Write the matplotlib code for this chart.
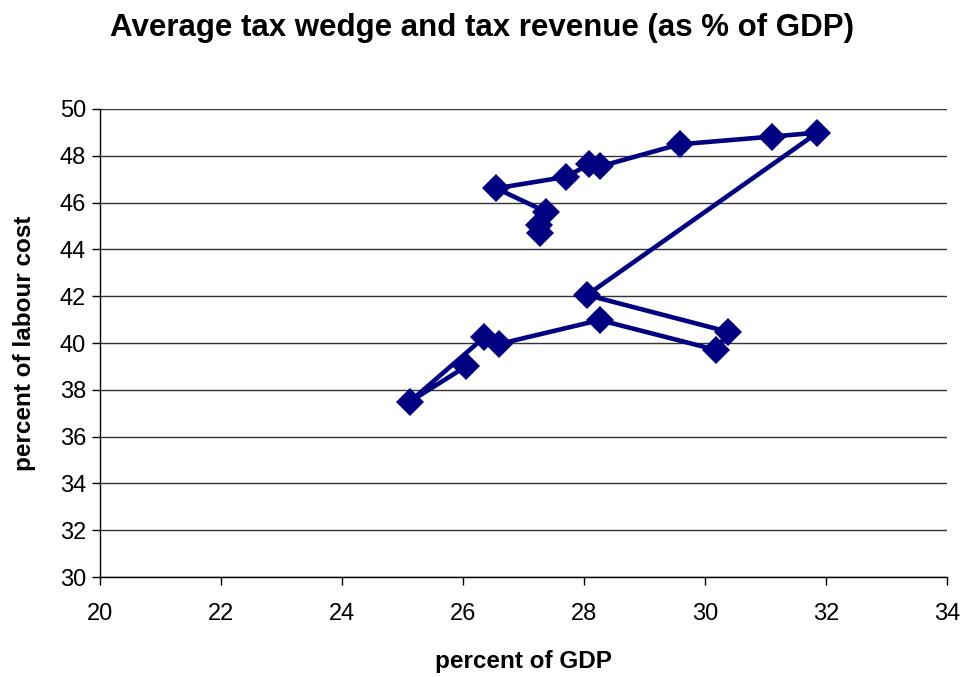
import matplotlib
matplotlib.use("Agg")
import matplotlib.pyplot as plt

# Tax revenue (% of GDP) vs average tax wedge (% of labour cost), in sequence
tax_revenue = [26.05, 25.12, 26.35, 26.6, 28.26, 30.19, 30.38, 28.05, 31.86,
               31.1, 29.58, 28.27, 28.09, 27.7, 26.55, 27.37, 27.25, 27.27]
tax_wedge = [39.0, 37.49, 40.24, 39.96, 40.98, 39.7, 40.48, 42.05, 48.99,
             48.82, 48.49, 47.55, 47.64, 47.1, 46.61, 45.61, 45.04, 44.7]

x_ticks = list(range(20, 35, 2))
y_ticks = list(range(30, 51, 2))

plt.rcParams['font.family'] = ['Liberation Sans', 'DejaVu Sans']

fig = plt.figure(figsize=(9.65, 6.77), dpi=100)
ax = fig.add_axes([0.1036, 0.1477, 0.8777, 0.6913])

ax.plot(tax_revenue, tax_wedge, color='#000080', linewidth=3.3,
        marker='D', markersize=14, markeredgewidth=0, zorder=3)

ax.set_xlim(20, 34)
ax.set_ylim(30, 50)
ax.set_xticks(x_ticks)
ax.set_yticks(y_ticks)
ax.tick_params(axis='both', labelsize=17, direction='out', length=6,
               width=1, color='black')
ax.tick_params(axis='x', pad=13)
ax.tick_params(axis='y', pad=4)
ax.yaxis.grid(True, color='#333333', linewidth=1)
ax.set_axisbelow(True)
for side in ('top', 'right'):
    ax.spines[side].set_visible(False)
for side in ('left', 'bottom'):
    ax.spines[side].set_color('black')
    ax.spines[side].set_linewidth(1)

ax.set_xlabel('percent of GDP', fontsize=17.5, fontweight='bold', labelpad=18)
ax.set_ylabel('percent of labour cost', fontsize=17.5, fontweight='bold', labelpad=17)
fig.text(0.5, 0.958, 'Average tax wedge and tax revenue (as % of GDP)',
         ha='center', va='center', fontsize=22.5, fontweight='bold')

fig.savefig('out.png', dpi=100)
